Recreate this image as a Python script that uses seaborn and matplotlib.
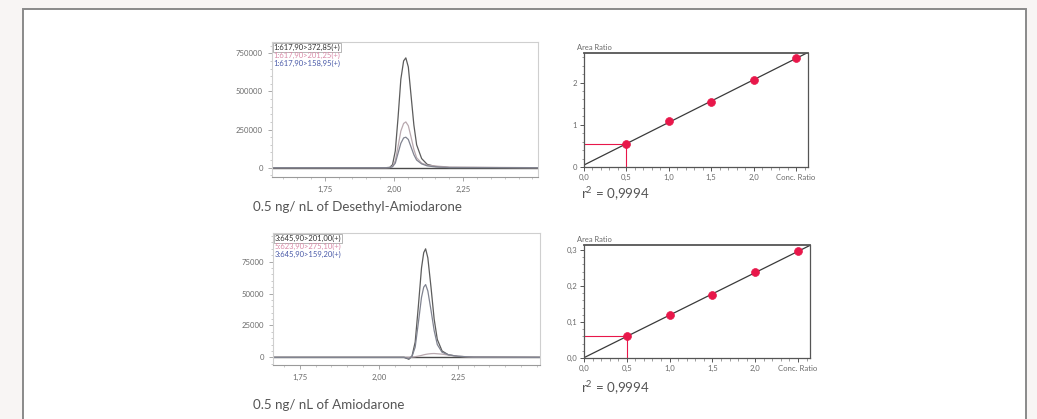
import numpy as np
import pandas as pd
import matplotlib
matplotlib.use("Agg")
import matplotlib.pyplot as plt
from matplotlib.patches import Rectangle
from matplotlib.ticker import AutoMinorLocator, MultipleLocator
import seaborn as sns

sns.set_style("white")
plt.rcParams["font.family"] = ["Lato", "DejaVu Sans"]
plt.rcParams["mathtext.fontset"] = "custom"
plt.rcParams["mathtext.rm"] = "Lato"
plt.rcParams["mathtext.it"] = "Lato"

# ---- chromatogram 1: Desethyl-Amiodarone (MRM transitions) ----
rt_desethyl = [1.56, 1.97, 1.985, 1.995, 2.005, 2.015, 2.025, 2.035, 2.043,
               2.052, 2.062, 2.072, 2.082, 2.10, 2.12, 2.15, 2.20, 2.52]
desethyl_37285 = [0, 0, 2000, 20000, 110000, 330000, 580000, 700000, 720000,
                  660000, 470000, 280000, 150000, 60000, 22000, 8000, 1000, 0]
desethyl_20125 = [0, 0, 1000, 9000, 45000, 140000, 240000, 290000, 300000,
                  275000, 200000, 120000, 65000, 30000, 16000, 11000, 4000, 0]
desethyl_15895 = [0, 0, 800, 6000, 30000, 95000, 160000, 195000, 200000,
                  185000, 135000, 85000, 50000, 25000, 12000, 5000, 1000, 0]
desethyl_labels = ["1:617,90>372,85(+)", "1:617,90>201,25(+)", "1:617,90>158,95(+)"]

# ---- chromatogram 2: Amiodarone ----
rt_amio = [1.665, 2.08, 2.095, 2.105, 2.115, 2.125, 2.135, 2.142, 2.148,
           2.155, 2.165, 2.175, 2.185, 2.20, 2.22, 2.25, 2.30, 2.51]
amio_20100 = [0, 0, -1500, 1000, 12000, 40000, 70000, 82000, 85000,
              78000, 55000, 30000, 14000, 5000, 2000, 800, 200, 0]
amio_27510 = [0, 0, 0, 200, 500, 1000, 1500, 2000, 2300,
              2600, 2900, 3000, 2800, 2500, 1800, 800, 200, 0]
amio_15920 = [0, 0, -1000, 800, 8000, 27000, 47000, 55000, 57000,
              52000, 37000, 21000, 10000, 4000, 2000, 800, 200, 0]
amio_labels = ["3:645,90>201,00(+)", "5:623,90>275,10(+)", "3:645,90>159,20(+)"]

# ---- calibration curves ----
conc_ratio = [0.5, 1.0, 1.5, 2.0, 2.5]
area_desethyl = [0.55, 1.08, 1.53, 2.07, 2.58]
area_amio = [0.061, 0.120, 0.174, 0.239, 0.297]
r2_desethyl = "0,9994"
r2_amio = "0,9994"

captions = ["0.5 ng/ nL of Desethyl-Amiodarone", "0.5 ng/ nL of Amiodarone"]

trace_colors = ["#5c5c5c", "#b9a9af", "#808390"]
label_colors = ["#333333", "#d98aa8", "#4a5aa8"]
point_color = "#e8174a"
tick_grey = "#6a6a6a"

W, H = 1037, 419
fig = plt.figure(figsize=(W / 100, H / 100), dpi=100, facecolor="#f8f5f4")


def rect(x0, y0, x1, y1):
    """Figure-fraction rectangle from pixel edges (y measured from top)."""
    return [x0 / W, 1 - y1 / H, (x1 - x0) / W, (y1 - y0) / H]


# page panel with a grey frame
fig.patches.append(Rectangle((23 / W, -0.05), (1026 - 23) / W, 1.05 - 9 / H,
                             transform=fig.transFigure, facecolor="white",
                             edgecolor="#8a8a8a", linewidth=1.4, zorder=-10))


def tick_fmt(v, decimals):
    return f"{v:.{decimals}f}".replace(".", ",")


def chromatogram(ax, rt, traces, labels, xlim, ylim, yticks):
    ax.set_facecolor("none")
    for y, c in zip(traces, trace_colors):
        sns.lineplot(x=rt, y=y, ax=ax, color=c, linewidth=0.9, sort=False)
    ax.axhline(0, color="#4a4a4a", linewidth=1.0, zorder=1)
    ax.set_xlim(*xlim)
    ax.set_ylim(*ylim)
    ax.set_xticks([1.75, 2.00, 2.25])
    ax.set_xticklabels([tick_fmt(v, 2) for v in [1.75, 2.00, 2.25]])
    ax.set_yticks(yticks)
    ax.set_yticklabels([str(v) for v in yticks])
    ax.xaxis.set_minor_locator(AutoMinorLocator(5))
    ax.yaxis.set_minor_locator(AutoMinorLocator(5))
    ax.tick_params(axis="both", which="major", labelsize=5.6, colors="#9a9a9a",
                   labelcolor=tick_grey, length=3, width=0.6, direction="out",
                   bottom=True, left=True)
    ax.tick_params(axis="both", which="minor", colors="#b5b5b5", length=1.5,
                   width=0.5, direction="out", bottom=True, left=True)
    for s in ax.spines.values():
        s.set_color("#cfcfcf")
        s.set_linewidth(0.8)
    ax.spines["bottom"].set_color("#9a9a9a")
    ax.set_xlabel("")
    ax.set_ylabel("")
    for i, (lab, col) in enumerate(zip(labels, label_colors)):
        kw = {}
        if i == 0:
            kw["bbox"] = dict(boxstyle="square,pad=0.1", facecolor="none",
                              edgecolor="#9a9a9a", linewidth=0.5)
        ax.text(0.005, 0.985 - i * 0.06, lab, transform=ax.transAxes,
                fontsize=5.5, color=col, ha="left", va="top", **kw)


def calibration(ax, x, y, ylim, yticks, ylabels, ymajor_minor):
    ax.set_facecolor("none")
    slope, intercept = np.polyfit(x, y, 1)
    xl = (0, 2.64)
    fit_x = [xl[0], xl[1] + 0.1]
    fit_y = [slope * v + intercept for v in fit_x]
    sns.lineplot(x=fit_x, y=fit_y, ax=ax, color="#3a3a3a", linewidth=0.9)
    y05 = slope * 0.5 + intercept
    ax.plot([0, 0.5], [y05, y05], color=point_color, linewidth=0.8, zorder=2)
    ax.plot([0.5, 0.5], [ylim[0], y05], color=point_color, linewidth=0.8, zorder=2)
    sns.scatterplot(x=x, y=y, ax=ax, color=point_color, s=32,
                    edgecolor=point_color, linewidth=0.5, zorder=3)
    ax.set_xlim(*xl)
    ax.set_ylim(*ylim)
    xt = [0, 0.5, 1.0, 1.5, 2.0, 2.5]
    ax.set_xticks(xt)
    ax.set_xticklabels([tick_fmt(v, 1) for v in xt[:-1]] + ["Conc. Ratio"])
    ax.set_yticks(yticks)
    ax.set_yticklabels(ylabels)
    ax.xaxis.set_minor_locator(MultipleLocator(0.1))
    ax.yaxis.set_minor_locator(MultipleLocator(ymajor_minor))
    ax.tick_params(axis="both", which="major", labelsize=5.6, colors="#555555",
                   labelcolor=tick_grey, length=3, width=0.7, direction="out",
                   bottom=True, left=True, pad=2)
    ax.tick_params(axis="both", which="minor", colors="#777777", length=1.8,
                   width=0.5, direction="out", bottom=True, left=True)
    for s in ax.spines.values():
        s.set_color("#555555")
        s.set_linewidth(0.9)
    ax.spines["top"].set_linewidth(1.3)
    ax.set_xlabel("")
    ax.set_ylabel("")
    ax.text(-0.03, 1.015, "Area Ratio", transform=ax.transAxes, fontsize=5.4,
            color=tick_grey, ha="left", va="bottom")


ax1 = fig.add_axes(rect(272, 42, 538, 177))
chromatogram(ax1, rt_desethyl, [desethyl_37285, desethyl_20125, desethyl_15895],
             desethyl_labels, (1.56, 2.52), (-61000, 824000),
             [0, 250000, 500000, 750000])

ax3 = fig.add_axes(rect(273, 233, 540, 365))
chromatogram(ax3, rt_amio, [amio_20100, amio_27510, amio_15920],
             amio_labels, (1.665, 2.51), (-6000, 97400),
             [0, 25000, 50000, 75000])

ax2 = fig.add_axes(rect(584, 53, 808, 167))
calibration(ax2, conc_ratio, area_desethyl, (0, 2.70), [0, 1, 2],
            ["0", "1", "2"], 0.2)

ax4 = fig.add_axes(rect(584, 245, 810, 358))
calibration(ax4, conc_ratio, area_amio, (0, 0.314), [0, 0.1, 0.2, 0.3],
            ["0,0", "0,1", "0,2", "0,3"], 0.02)

cap_kw = dict(fontsize=9.6, color="#555555", ha="left", va="center")
fig.text(253 / W, 1 - 207 / H, captions[0], **cap_kw)
fig.text(253 / W, 1 - 405 / H, captions[1], **cap_kw)
fig.text(581 / W, 1 - 194 / H, f"r$^{{2}}$ = {r2_desethyl}", **cap_kw)
fig.text(581 / W, 1 - 388 / H, f"r$^{{2}}$ = {r2_amio}", **cap_kw)

fig.savefig("out.png", dpi=100, facecolor=fig.get_facecolor())
